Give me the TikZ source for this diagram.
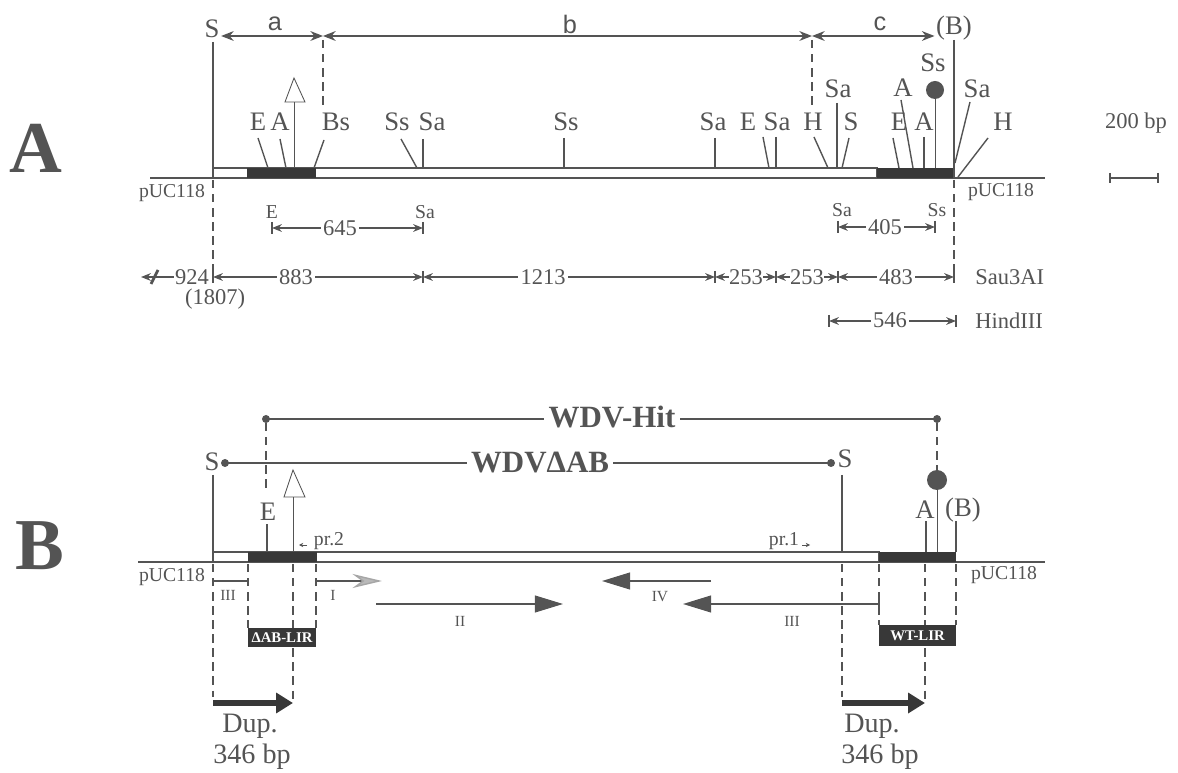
\documentclass[tikz,border=0pt]{standalone}
\usepackage{fontspec}
\setmainfont{Liberation Serif}
\setsansfont{Liberation Sans}
\usepackage{tikz}
\usetikzlibrary{arrows.meta}

\definecolor{ink}{gray}{0.33}
\definecolor{dna}{gray}{0.22}

\begin{document}
\begin{tikzpicture}[
    x=0.025cm, y=-0.025cm,
    every node/.style={text=ink, inner sep=1pt},
    panel/.style={font=\fontsize{52}{52}\selectfont\bfseries},
    site/.style={font=\fontsize{19}{21}\selectfont},
    span/.style={font=\sffamily\fontsize{18}{20}\selectfont},
    small/.style={font=\fontsize{14}{16}\selectfont},
    num/.style={font=\fontsize{16}{18}\selectfont, fill=white, inner sep=1.5pt},
    tiny/.style={font=\fontsize{11}{12}\selectfont},
    title/.style={font=\fontsize{22}{24}\selectfont\bfseries, fill=white, inner sep=3pt},
    lir/.style={fill=dna, text=white, font=\fontsize{10.5}{11}\selectfont\bfseries, inner sep=0pt},
    dnaline/.style={draw=ink, line width=1.1pt},
    cut/.style={draw=ink, line width=1pt},
    thin/.style={draw=ink, line width=0.6pt},
    guide/.style={draw=ink, line width=0.9pt, dash pattern=on 6pt off 4pt},
    dimtop/.style={draw=ink, line width=0.9pt, {Stealth[length=9pt,width=7pt]}-{Stealth[length=9pt,width=7pt]}},
    dim/.style={draw=ink, line width=0.8pt, {Stealth[length=7pt,width=5.5pt]}-{Stealth[length=7pt,width=5.5pt]}},
    tick/.style={draw=ink, line width=0.8pt},
    fwd/.style={draw=ink, line width=1.1pt, -{Triangle[length=20pt,width=12pt]}},
    dup/.style={draw=dna, line width=4.5pt, -{Triangle[length=12pt,width=14pt]}}
]
    \useasboundingbox (0,0) rectangle (1178,773);

    % ---------------- panel A ----------------
    \node[panel] (pA) at (36,148) {A};

    % map of the clone
    \draw[dnaline] (150,178) -- (1045,178);
    \draw[dnaline, fill=white] (213,168) rectangle (877,178);
    \fill[dna] (247,168) rectangle (316,178);
    \fill[dna] (877,168) rectangle (954,178);
    \node[small] (pucAl) at (172,193) {pUC118};
    \node[small] (pucAr) at (1001,192) {pUC118};

    % fragments a, b, c
    \node[site] (sS) at (212,29) {S};
    \node[site] (sB) at (954,28) {(B)};
    \coordinate (ja) at (323,36);
    \coordinate (jb) at (812,36);
    \draw[dimtop] (sS.east |- ja) -- (ja);
    \draw[dimtop] (ja) -- (jb);
    \draw[dimtop] (jb) -- (sB.west |- jb);
    \node[span] (la) at (275,24) {a};
    \node[span] (lb) at (570,24) {b};
    \node[span] (lc) at (880,24) {c};
    \draw[cut] (213,42) -- (213,178);
    \draw[cut] (954,40) -- (954,178);
    \draw[guide] (ja) ++(0,4) -- (323,110);
    \draw[guide] (jb) ++(0,4) -- (812,108);

    % restriction sites
    \foreach \t/\lx/\ly/\ax/\ay/\bx/\by [count=\i] in {
        E/258/122/258/138/268/168, A/280/122/280/139/286/168,
        Bs/336/122/324/140/314/168, Ss/397/122/401/139/417/168,
        Sa/432/122/423/139/423/168, Ss/566/122/564/138/564/168,
        Sa/713/122/715/138/715/168, E/748/122/763/137/769/168,
        Sa/777/122/776/137/776/168, H/813/122/814/137/828/168,
        Sa/838/89/837/103/837/168, S/851/122/849/138/842/168,
        E/899/122/893/138/899/168, A/903/88/901/100/913/168,
        A/924/122/924/137/924/168, Sa/977/89/970/102/955/163,
        H/1003/122/988/138/958/177} {
        \node[site] (siteA\i) at (\lx,\ly) {\t};
        \draw[cut] (\ax,\ay) -- (\bx,\by);
    }
    \node[site] (ssA) at (933,63) {Ss};
    \draw[thin] (935,90) -- (935,168);
    \fill[ink] (935,90) circle (9);
    \draw[thin] (294,168) -- (294,102);
    \draw[thin, fill=white] (285,102) -- (294,78) -- (305,102) -- cycle;

    % scale bar
    \node[small, font=\fontsize{16}{18}\selectfont] (scl) at (1136,123) {200 bp};
    \draw[tick] (1110,178) -- (1158,178);
    \draw[tick] (1110,173) -- (1110,183);
    \draw[tick] (1158,173) -- (1158,183);

    % fragment sizes
    \draw[guide] (213,180) -- (213,271);
    \draw[guide] (954,180) -- (954,271);

    \node[small] (e645) at (272,212) {E};
    \node[small] (sa645) at (425,212) {Sa};
    \draw[dim] (272,228) -- (423,228);
    \foreach \x in {272,423} \draw[tick] (\x,222) -- (\x,234);
    \node[num] (n645) at (340,228) {645};

    \node[small] (sa405) at (842,210) {Sa};
    \node[small] (ss405) at (937,210) {Ss};
    \draw[dim] (838,227) -- (935,227);
    \foreach \x in {838,935} \draw[tick] (\x,221) -- (\x,233);
    \node[num] (n405) at (885,227) {405};

    \foreach \xa/\xb in {213/423, 423/715, 715/776, 776/838, 838/954}
        \draw[dim] (\xa,277) -- (\xb,277);
    \foreach \x in {213,423,715,776,838,954} \draw[tick] (\x,271) -- (\x,283);
    \draw[draw=ink, line width=0.8pt, -{Stealth[length=7pt,width=5.5pt]}] (176,277) -- (141,277);
    \draw[draw=ink, line width=2pt] (151,284) -- (158,270);
    \node[num, inner sep=1pt] (n924) at (192,277) {924};
    \node[num] (n883) at (296,277) {883};
    \node[num] (n1213) at (543,277) {1213};
    \node[num, inner sep=0pt] (n253a) at (746,277) {253};
    \node[num, inner sep=0pt] (n253b) at (807,277) {253};
    \node[num] (n483) at (896,277) {483};
    \node[num, inner sep=0pt] (n1807) at (215,299) {(1807)};
    \node[num, anchor=west] (sau) at (973,277) {Sau3AI};

    \draw[dim] (829,321) -- (956,321);
    \foreach \x in {829,956} \draw[tick] (\x,315) -- (\x,327);
    \node[num] (n546) at (890,320) {546};
    \node[num, anchor=west] (hind) at (973,321) {HindIII};

    % ---------------- panel B ----------------
    \node[panel] (pB) at (40,546) {B};

    \draw[dnaline] (138,562) -- (1045,562);
    \draw[dnaline, fill=white] (213,552) rectangle (879,562);
    \fill[dna] (248,552) rectangle (317,562);
    \fill[dna] (879,552) rectangle (956,562);
    \node[small] (pucBl) at (172,577) {pUC118};
    \node[small] (pucBr) at (1004,575) {pUC118};

    % constructs
    \node[site] (sBl) at (212,462) {S};
    \node[site] (sBr) at (845,459) {S};
    \draw[cut] (213,475) -- (213,552);
    \draw[cut] (842,475) -- (842,552);
    \coordinate (hitL) at (266,419);
    \coordinate (hitR) at (937,419);
    \coordinate (dabL) at (225,463);
    \coordinate (dabR) at (831,463);
    \draw[cut] (hitL) -- (hitR);
    \draw[cut] (dabL) -- (dabR);
    \foreach \p in {hitL,hitR,dabL,dabR} \fill[ink] (\p) circle (4);
    \node[title] (hit) at (612,417) {WDV-Hit};
    \node[title] (dab) at (540,463) {WDVΔAB};
    \draw[guide] (266,423) -- (266,492);
    \draw[guide] (937,423) -- (937,470);

    \node[site] (eB) at (268,512) {E};
    \draw[cut] (267,524) -- (267,552);
    \draw[draw=ink, line width=2pt] (267,525) -- (267,533);
    \draw[thin] (293,552) -- (293,497);
    \draw[thin, fill=white] (284,497) -- (293,470) -- (305,497) -- cycle;
    \draw[thin, -{Stealth[length=3pt,width=3pt]}] (307,545) -- (299,545);
    \node[small] (pr2) at (329,541) {pr.2};
    \node[small] (pr1) at (784,541) {pr.1};
    \draw[thin, -{Stealth[length=3pt,width=3pt]}] (802,545) -- (810,545);

    \draw[thin] (937,480) -- (937,552);
    \fill[ink] (937,480) circle (10);
    \node[site] (aB) at (925,510) {A};
    \node[site] (bB) at (963,510) {(B)};
    \draw[cut] (926,521) -- (926,552);
    \draw[cut] (956,521) -- (956,552);

    % transcripts and repeats
    \foreach \x/\yb in {213/697, 248/628, 293/700, 316/628, 842/697, 879/625, 925/703, 956/625}
        \draw[guide] (\x,564) -- (\x,\yb);
    \draw[cut] (213,586) -- (213,581) -- (248,581) -- (248,586);
    \node[tiny] (t3l) at (228,595) {III};
    \draw[cut, -{Stealth[length=21pt,width=10pt,fill=gray!55,color=gray!70]}] (316,586) -- (316,581) -- (382,581);
    \node[tiny] (t1) at (333,595) {I};
    \draw[fwd] (376,604) -- (563,604);
    \node[tiny] (t2) at (460,621) {II};
    \draw[fwd] (711,581) -- (602,581);
    \node[tiny] (t4) at (660,597) {IV};
    \draw[fwd] (879,604) -- (683,604);
    \draw[cut] (879,598) -- (879,610);
    \node[tiny] (t3r) at (792,621) {III};

    \node[lir, minimum width=1.7cm, minimum height=0.475cm] (lirD) at (282,637.5) {ΔAB-LIR};
    \node[lir, minimum width=1.925cm, minimum height=0.525cm] (lirW) at (917.5,635.5) {WT-LIR};

    \draw[dup] (213,703) -- (293,703);
    \draw[dup] (842,703) -- (925,703);
    \node[site, font=\fontsize{20}{22}\selectfont] (dupl) at (250,726) {Dup.};
    \node[site, font=\fontsize{20}{22}\selectfont] (dupbl) at (252,757) {346 bp};
    \node[site, font=\fontsize{20}{22}\selectfont] (dupr) at (872,726) {Dup.};
    \node[site, font=\fontsize{20}{22}\selectfont] (dupbr) at (880,757) {346 bp};

\end{tikzpicture}
\end{document}
